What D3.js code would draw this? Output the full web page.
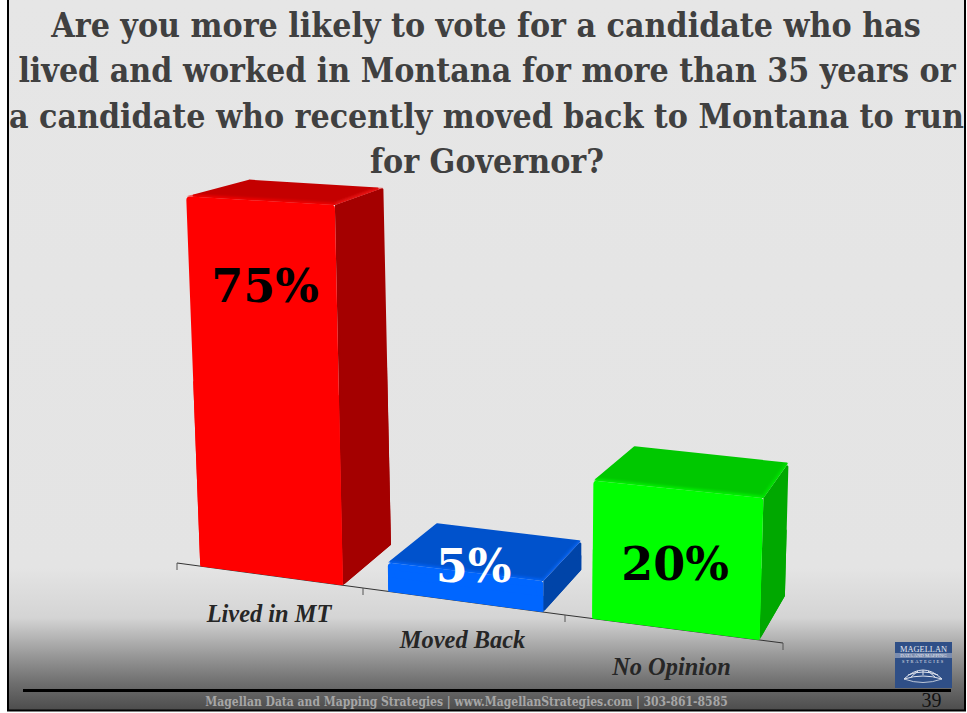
<!DOCTYPE html>
<html><head><meta charset="utf-8">
<script src="https://cdn.jsdelivr.net/npm/d3@7"></script>
<style>html,body{margin:0;padding:0;background:#fff;overflow:hidden}svg{display:block}</style>
</head><body><div id="c"></div>
<script>
const categories = ["Lived in MT","Moved Back","No Opinion"];
const values = [75,5,20];
const valueLabels = ["75%","5%","20%"];
const titleLines = ["Are you more likely to vote for a candidate who has","lived and worked in Montana for more than 35 years or","a candidate who recently moved back to Montana to run","for Governor?"];
const footerText = "Magellan Data and Mapping Strategies | www.MagellanStrategies.com | 303-861-8585";
const pageNumber = "39";
const frontColors = ["#ff0000","#0066ff","#00ff00"];
const topColors = ["#c40000","#0052cc","#00c800"];
const sideColors = ["#a40000","#0044a8","#00a800"];
const edgeColors = ["#ff2020","#0a6cff","#00f000"];
const labelColors = ["#000","#fff","#000"];

const W=967,H=713;
const svg=d3.select("#c").append("svg").attr("width",W).attr("height",H);
const defs=svg.append("defs");
const bg=defs.append("linearGradient").attr("id","bg").attr("x1",0).attr("x2",0).attr("y1",0).attr("y2",1);
[[0,"#e6e6e6"],[0.80,"#e4e4e4"],[0.87,"#d4d4d4"],[0.90,"#b2b2b2"],[0.93,"#909090"],[0.96,"#707070"],[1,"#4c4c4c"]].forEach(s=>bg.append("stop").attr("offset",s[0]).attr("stop-color",s[1]));
const bl=defs.append("filter").attr("id","soft").attr("x","-20%").attr("y","-20%").attr("width","140%").attr("height","140%");
bl.append("feGaussianBlur").attr("stdDeviation",1.6);
svg.append("rect").attr("x",8).attr("y",-2).attr("width",957).attr("height",712.5).attr("fill","url(#bg)").attr("stroke","#000").attr("stroke-width",2);

// projected scales (sloped, perspective category axis)
const axisX=d3.scaleLinear().domain([0,1,2,3]).range([177,363,565,783]);
const axisY=d3.scaleLinear().domain([0,1,2,3]).range([563,588,615,643]);
const unitsPerValue=d3.scaleLinear().domain([200,343,389,542,592,760]).range([4.93,5.07,5.8,6.2,6.9,7.1]);
const leanX=d3.scaleLinear().domain([200,760]).range([-0.038,0.028]);
const depthX=d3.scaleLinear().domain([185,340,388,542,594,764]).range([63,48,49,38,41,25]);
const depthY=d3.scaleLinear().domain([200,640]).range([-17,-44]);
const bandStart=0.125,bandEnd=0.892;

function pt(u,v,back){
  const bx=axisX(u),by=axisY(u),h=v*unitsPerValue(bx);
  let x=bx+leanX(bx)*h,y=by-h;
  if(back){const nx=x+depthX(x),ny=y+depthY(y);x=nx;y=ny;}
  return [x,y];
}
// shrink a convex polygon by r so a round stroke of width 2r restores its outline
function insetPoly(pts,r){
  const n=pts.length;
  return pts.map((p,i)=>{
    const q=pts[(i+n-1)%n],s=pts[(i+1)%n];
    const u1=[p[0]-q[0],p[1]-q[1]],u2=[s[0]-p[0],s[1]-p[1]];
    const l1=Math.hypot(...u1),l2=Math.hypot(...u2);
    const e1=[u1[0]/l1,u1[1]/l1],e2=[u2[0]/l2,u2[1]/l2];
    const cross=Math.abs(e1[0]*e2[1]-e1[1]*e2[0]);
    return [p[0]+(e2[0]-e1[0])*r/cross,p[1]+(e2[1]-e1[1])*r/cross];
  });
}
const line=d3.line();
const axisLine=svg.append("g");
axisLine.append("path").attr("d",line(d3.range(4).map(i=>[axisX(i),axisY(i)]))).attr("fill","none").attr("stroke","#333").attr("stroke-width",1);
axisLine.selectAll("line").data(d3.range(4)).join("line")
  .attr("x1",axisX).attr("x2",axisX).attr("y1",axisY).attr("y2",d=>axisY(d)+7).attr("stroke","#555");

categories.forEach((c,i)=>{
  const v=values[i],a=i+bandStart,b=i+bandEnd;
  const g=svg.append("g");
  const sharp=(pts,fill)=>g.append("path").attr("d",line(pts)+"Z").attr("fill",fill);
  const round=(pts,fill,r)=>g.append("path").attr("d",line(insetPoly(pts,r))+"Z").attr("fill",fill).attr("stroke",fill).attr("stroke-width",2*r).attr("stroke-linejoin","round");
  const side=[pt(b,v),pt(b,v,1),pt(b,0,1),pt(b,0)];
  const top=[pt(a,v),pt(a,v,1),pt(b,v,1),pt(b,v)];
  const front=[pt(a,0),pt(a,v),pt(b,v),pt(b,0)];
  round(side,sideColors[i],1.2);
  sharp([pt(b,v/2),pt(b,v/2,1),pt(b,0,1),pt(b,0)],sideColors[i]);
  round(top,topColors[i],1.2);
  const clipId="topclip"+i;
  defs.append("clipPath").attr("id",clipId).append("path").attr("d",line(top)+"Z");
  const hl=g.append("g").attr("clip-path",`url(#${clipId})`);
  hl.append("path").attr("d",line([pt(b,v),pt(b,v,1)])).attr("stroke",edgeColors[i]).attr("stroke-width",4).attr("opacity",0.7).attr("filter","url(#soft)").attr("fill","none");
  hl.append("path").attr("d",line([pt(a,v),pt(b,v)])).attr("stroke",frontColors[i]).attr("stroke-width",4).attr("opacity",0.8).attr("filter","url(#soft)").attr("fill","none");
  round(front,frontColors[i],3.5);
  sharp([pt(a,0),pt(a,v/2),pt(b,v/2),pt(b,0)],frontColors[i]);
  svg.append("text").attr("x",[265,473.5,675][i]).attr("y",[302,582,580][i]).attr("text-anchor","middle")
    .attr("font-family","'DejaVu Serif'").attr("font-weight","bold").attr("font-size",46).attr("fill",labelColors[i]).text(valueLabels[i]);
});

// category labels
svg.selectAll("text.cat").data(categories).join("text").attr("class","cat")
  .attr("x",(d,i)=>[269,462.5,671.5][i]).attr("y",(d,i)=>[622,648,675][i])
  .attr("text-anchor","middle").attr("font-family","'Liberation Serif'").attr("font-weight","bold").attr("font-style","italic").attr("font-size",24.4).attr("fill","#262626").text(d=>d);

// title
svg.selectAll("text.title").data(titleLines).join("text").attr("class","title")
  .attr("x",(d,i)=>[486,487,486.5,487][i]).attr("y",(d,i)=>37+i*45.3)
  .attr("text-anchor","middle").attr("font-family","'DejaVu Serif Condensed','DejaVu Serif'").attr("font-weight","bold").attr("font-size",33.6).attr("fill","#404040").text(d=>d);

// footer
svg.append("line").attr("x1",23).attr("x2",951).attr("y1",690.5).attr("y2",690.5).attr("stroke","#000").attr("stroke-width",3);
svg.append("text").attr("x",466.5).attr("y",706).attr("text-anchor","middle").attr("font-family","'DejaVu Serif Condensed'").attr("font-weight","bold").attr("font-size",12).attr("fill","#a6a6a6").text(footerText);
svg.append("text").attr("x",931.5).attr("y",707).attr("text-anchor","middle").attr("font-family","'Liberation Serif'").attr("font-size",20).attr("fill","#111").text(pageNumber);

// logo
const lg=svg.append("g").attr("transform","translate(895,642)");
lg.append("rect").attr("width",57).attr("height",46).attr("fill","#2f4f87");
lg.append("rect").attr("y",11).attr("width",57).attr("height",5).attr("fill","#7b8db0");
lg.append("text").attr("x",28.5).attr("y",9.5).attr("text-anchor","middle").attr("font-family","'Liberation Serif'").attr("font-size",8.4).attr("fill","#e4e8f0").text("MAGELLAN");
lg.append("text").attr("x",28.5).attr("y",15.3).attr("text-anchor","middle").attr("font-family","'Liberation Serif'").attr("font-size",4.8).attr("fill","#e4e8f0").text("DATA AND MAPPING");
lg.append("text").attr("x",28.5).attr("y",21).attr("text-anchor","middle").attr("font-family","'Liberation Serif'").attr("font-size",4.4).attr("letter-spacing",1.7).attr("fill","#e4e8f0").text("STRATEGIES");
lg.append("path").attr("d","M9 37 Q28 19 47 37 Q28 31 9 37Z M16 35 L23 29 M28 33 L28 28 M40 35 L33 29 M13 33 Q28 27 43 33").attr("fill","none").attr("stroke","#dfe4ee").attr("stroke-width",1);
lg.append("path").attr("d","M9 37 Q28 44 47 37").attr("fill","none").attr("stroke","#dfe4ee").attr("stroke-width",0.8);
</script></body></html>
